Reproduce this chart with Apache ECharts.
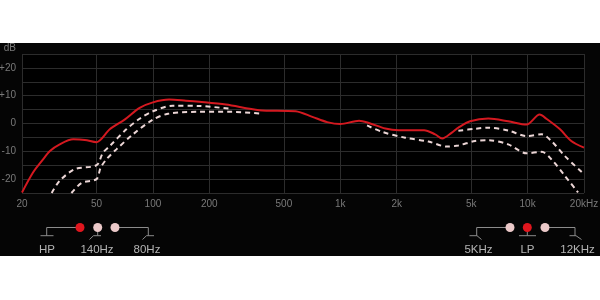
<!DOCTYPE html>
<html>
<head>
<meta charset="utf-8">
<script src="https://cdn.jsdelivr.net/npm/echarts@6/dist/echarts.min.js"></script>
<style>
html,body{margin:0;padding:0;background:#ffffff;}
#chart{width:600px;height:300px;}
</style>
</head>
<body>
<div id="chart"></div>
<script>
// ---- data ----
const tickFreqs = [20, 50, 100, 200, 500, 1000, 2000, 5000, 10000, 20000];
const tickLabels = ['20', '50', '100', '200', '500', '1k', '2k', '5k', '10k', '20kHz'];
const yTicks = [-20, -10, 0, 10, 20];
const yTickLabels = ['-20', '-10', '0', '+10', '+20'];

// main response (red), [Hz, dB]
const mainCurve = [[20,-24.8],[22.9,-17.6],[25.9,-12.9],[28.2,-9.9],[31.8,-7.5],[37.5,-5.7],[43.3,-5.9],[50,-6.7],
  [58.8,-2.1],[70.6,1.4],[84.9,5.6],[100,7.6],[122,8.6],[150,8.2],[177,7.8],[245,6.8],[369,4.8],[578,4.4],[709,2.4],
  [851,0.5],[1000,-0.2],[1260,1.0],[1420,0.2],[1740,-1.8],[2050,-2.4],[2800,-2.4],[3210,-3.9],[3500,-5.4],[3940,-3.3],
  [4270,-1.5],[4930,0.8],[6170,1.8],[7880,0.8],[9860,-0.4],[11600,3.2],[12600,1.7],[14900,-2.1],[17100,-6.3],[20000,-8.7]];
// high-pass 140Hz (upper dashed, low end)
const hp140 = [[28.8,-25],[31.8,-20.6],[38.3,-16.4],[50,-15.0],[54.1,-10.5],[58.8,-8.1],[72.1,-2.1],[84.9,1.7],
  [100,4.4],[127.6,6.4],[177,6.3],[266,5.2]];
// high-pass 80Hz (lower dashed, low end)
const hp80 = [[36.7,-25],[41.6,-21.4],[50,-20.0],[52.5,-16.0],[56.4,-12.9],[63.8,-9.3],[78.2,-3.9],[100,1.4],
  [122,3.6],[177,4.2],[266,4.2],[369,3.6]];
// low-pass 12KHz (upper dashed, high end)
const lp12k = [[4270,-2.6],[5240,-1.9],[6170,-1.5],[7880,-2.5],[9860,-4.5],[11900,-3.9],[13400,-6.3],[15800,-11.7],[20000,-18.2]];
// low-pass 5KHz (lower dashed, high end)
const lp5k = [[1390,-0.7],[1670,-3.0],[2220,-5.1],[2960,-6.5],[3710,-8.3],[4270,-7.9],[5240,-6.3],[6170,-6.0],
  [7880,-7.5],[9860,-10.7],[11900,-10.2],[13400,-12.9],[15800,-18.8],[18600,-24.8]];

// ---- chart ----
const toLog = arr => arr.map(p => [Math.log10(p[0]), p[1]]);
const chart = echarts.init(document.getElementById('chart'), null, {renderer: 'canvas'});

const redC = '#d41920', dashC = '#ecd6d6', lineC = '#8c8c8c', txtC = '#b4b4b4', pinkC = '#ebc9c9';
const ctrlFont = '11.5px "Liberation Sans", Arial, sans-serif';

function dashed(data, z) {
  return {type: 'line', data: toLog(data), showSymbol: false, smooth: 0.3, z: z,
    lineStyle: {color: dashC, width: 2, type: [5, 4], cap: 'butt'}};
}

function txt(x, y, s) {
  return {type: 'text', x: x, y: y, style: {text: s, fill: txtC, font: ctrlFont, align: 'center', verticalAlign: 'middle'}};
}
function poly(points) {
  return {type: 'polyline', shape: {points: points}, style: {stroke: lineC, lineWidth: 1, fill: null}};
}
function dot(x, color) {
  return {type: 'circle', shape: {cx: x, cy: 227.5, r: 4.5}, style: {fill: color}};
}

const controls = [
  {type: 'rect', shape: {x: 0, y: 43, width: 600, height: 213}, style: {fill: '#050505'}, z: -10},
  poly([[46.7, 235.7], [46.7, 227.5], [76, 227.5]]),
  poly([[40.5, 235.7], [53.5, 235.7]]),
  poly([[97.7, 231], [97.7, 235.7]]),
  poly([[89.5, 239.5], [93.5, 235.7], [101, 235.7]]),
  poly([[119, 227.5], [148.3, 227.5], [148.3, 235.7]]),
  poly([[142.5, 239.5], [146.5, 235.7], [154, 235.7]]),
  dot(80, '#e0161e'), dot(97.7, pinkC), dot(115, pinkC),
  txt(47, 249.5, 'HP'), txt(97, 249.5, '140Hz'), txt(147, 249.5, '80Hz'),

  poly([[506, 227.5], [476.7, 227.5], [476.7, 235.7]]),
  poly([[469.5, 235.7], [477, 235.7], [481.5, 239.5]]),
  poly([[527.3, 231], [527.3, 235.7]]),
  poly([[519, 235.7], [536, 235.7]]),
  poly([[549, 227.5], [575, 227.5], [575, 235.7]]),
  poly([[569.5, 235.7], [576, 235.7], [581.5, 239.5]]),
  dot(510, pinkC), dot(527.3, '#e0161e'), dot(545, pinkC),
  txt(478.5, 249.5, '5KHz'), txt(527.5, 249.5, 'LP'), txt(577.5, 249.5, '12KHz')
];

chart.setOption({
  backgroundColor: '#ffffff',
  animation: false,
  grid: {left: 22, right: 16, top: 54, bottom: 107, containLabel: false, outerBoundsMode: 'none',
    show: true, backgroundColor: '#000000', borderWidth: 0},
  xAxis: {
    type: 'value', min: Math.log10(tickFreqs[0]), max: Math.log10(tickFreqs[tickFreqs.length - 1]),
    axisLine: {show: false},
    axisTick: {show: false, customValues: tickFreqs.map(f => Math.log10(f))},
    axisLabel: {
      customValues: tickFreqs.map(f => Math.log10(f)),
      color: '#7a7a7a', fontSize: 10, margin: 6, fontFamily: '"Liberation Sans", Arial, sans-serif',
      formatter: v => {
        const i = tickFreqs.findIndex(f => Math.abs(Math.log10(f) - v) < 1e-6);
        return i >= 0 ? tickLabels[i] : '';
      }
    },
    splitLine: {show: true, lineStyle: {color: '#2c2c2c', width: 1}}
  },
  yAxis: {
    type: 'value', min: -25, max: 25, interval: 5,
    name: 'dB', nameLocation: 'end', nameGap: 1,
    nameTextStyle: {color: '#7a7a7a', fontSize: 10, align: 'right', padding: [0, 6, 0, 0],
      fontFamily: '"Liberation Sans", Arial, sans-serif'},
    axisLine: {show: false}, axisTick: {show: false},
    axisLabel: {
      color: '#7a7a7a', fontSize: 10, margin: 6, fontFamily: '"Liberation Sans", Arial, sans-serif',
      formatter: v => {
        const i = yTicks.indexOf(v);
        return i >= 0 ? yTickLabels[i] : '';
      }
    },
    splitLine: {show: true, lineStyle: {color: '#2c2c2c', width: 1}}
  },
  graphic: controls,
  series: [
    dashed(hp140, 2), dashed(hp80, 2), dashed(lp12k, 2), dashed(lp5k, 2),
    {type: 'line', data: toLog(mainCurve), showSymbol: false, smooth: 0.3, z: 3,
      lineStyle: {color: redC, width: 2}}
  ]
});
</script>
</body>
</html>
